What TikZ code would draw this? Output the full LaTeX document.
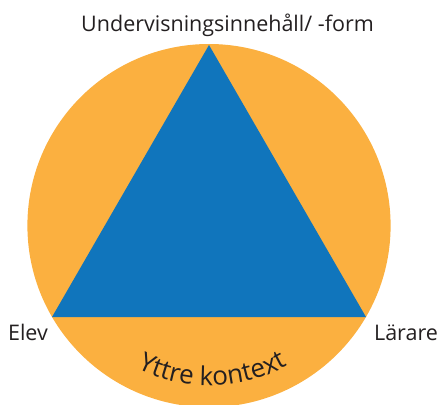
\documentclass[tikz,border=0pt]{standalone}
\usepackage{fontspec}
\setmainfont{Open Sans}
\usetikzlibrary{decorations.text}
\definecolor{ctxorange}{HTML}{FBB040}
\definecolor{triblue}{HTML}{1075BC}
\definecolor{txtgray}{HTML}{231F20}
\tikzset{
  lbl/.style={anchor=base, inner sep=0pt, text=txtgray, font=\fontsize{21.5}{21.5}\selectfont},
}
\begin{document}
\begin{tikzpicture}[x=1pt,y=1pt]
\useasboundingbox (0,0) rectangle (438,-404);
\begin{scope}
\clip (0,0) rectangle (438,-404);
\fill[ctxorange] (209,-225.6) circle (181.6);
\end{scope}
\coordinate (top) at (209,-45);
\coordinate (left) at (52,-317);
\coordinate (right) at (366,-317);
\fill[triblue] (top) -- (left) -- (right) -- cycle;
\node[lbl] (innehall) at (227.5,-32) {Undervisningsinnehåll/ -form};
\node[lbl] (elev) at (28,-340) {Elev};
\node[lbl] (larare) at (406,-340) {Lärare};
\path[decorate, decoration={text along path, text align=center,
  text={|\fontsize{26}{26}\selectfont\color{txtgray}|Yttre kontext}}]
  (210,-225.6) ++(212:160) arc (212:330:160);
\end{tikzpicture}
\end{document}
